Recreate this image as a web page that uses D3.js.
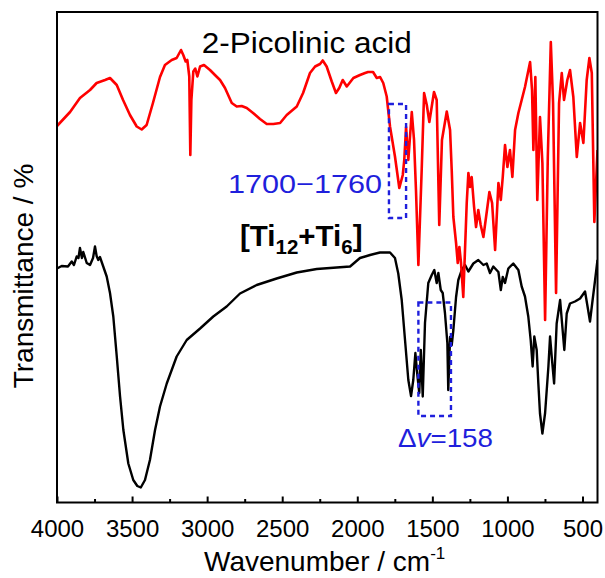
<!DOCTYPE html>
<html><head><meta charset="utf-8">
<script src="https://cdn.jsdelivr.net/npm/d3@7"></script>
<style>body{margin:0;background:#fff} svg{display:block} text{font-family:"Liberation Sans",Arial,Helvetica,sans-serif}</style>
</head><body><svg id="c" width="605" height="578"></svg>
<script>
// ---- data (wavenumber / cm-1, relative transmittance) ----
const wnRed=[4000,3913,3847,3780,3736,3680,3647,3602,3560,3514,3469,3436,3403,3361,3314,3281,3236,3203,3174,3159,3143,3132,3119,3112,3105,3092,3079,3065,3047,3021,2981,2948,2914,2881,2836,2803,2770,2736,2694,2648,2603,2559,2514,2470,2403,2361,2315,2281,2248,2230,2204,2170,2142,2120,2097,2070,2026,1982,1948,1928,1895,1870,1848,1827,1804,1782,1749,1720,1697,1687,1675,1660,1637,1622,1609,1593,1571,1555,1537,1520,1489,1471,1454,1436,1404,1382,1371,1360,1342,1331,1320,1309,1294,1271,1260,1249,1238,1222,1209,1194,1178,1160,1136,1120,1102,1082,1060,1044,1031,1016,1000,983,967,949,927,905,883,849,836,827,814,801,783,767,749,731,711,696,676,656,638,623,601,583,561,538,516,494,472,454,438,421,400];
const tRed=[75.3,78.1,80.9,82.5,83.9,84.5,84.9,83.5,80.5,77.5,75.2,74.6,75.5,79.9,85.1,87.5,88.5,88.9,90.5,89.5,88.2,88.5,85.2,69.5,80.5,86.2,86.8,85.2,87.2,87.5,86.5,85.5,84.5,82.9,79.9,79.2,79.3,78.9,77.9,76.7,75.7,75.7,75.9,77.5,79.2,81.9,85.9,87.2,87.7,88.4,87.2,84.2,81.9,82.9,84.5,83.2,84.9,85.5,85.9,86.1,86.1,84.9,85.1,83.9,81.2,75.2,69.2,62.9,65.5,68.5,75.1,68.5,78.1,72.5,62.5,47.5,66.5,81.9,79.5,76.1,82.1,80.5,55.5,72.5,78.2,74.5,66.5,57.1,51.9,47.9,51.1,47.9,41.1,59.9,65.9,63.1,65.1,59.1,55.1,58.5,55.5,53.1,58.5,62.1,59.9,50.5,63.9,60.5,65.1,71.5,67.1,70.5,65.1,74.5,77.9,80.5,83.1,88.1,82.5,70.5,85.1,60.5,77.1,67.9,36.5,69.1,92.1,79.9,41.9,79.9,85.9,80.5,84.5,86.5,81.1,69.1,75.9,71.9,84.5,88.9,85.9,56.1,70.5];
const wnBlack=[4000,3969,3927,3902,3887,3869,3857,3847,3834,3825,3802,3780,3760,3747,3736,3725,3714,3692,3669,3647,3625,3602,3580,3558,3525,3492,3465,3442,3414,3381,3347,3314,3269,3203,3136,3047,2959,2870,2781,2670,2537,2403,2270,2137,2048,1982,1915,1849,1782,1749,1727,1704,1682,1660,1642,1627,1613,1600,1587,1577,1564,1549,1527,1504,1487,1471,1460,1444,1431,1416,1400,1394,1382,1371,1360,1342,1327,1304,1282,1260,1227,1194,1160,1138,1116,1094,1060,1044,1031,1016,994,961,927,905,883,861,845,832,821,805,794,783,767,749,727,716,703,689,672,649,634,621,605,583,550,516,483,468,450,435,416,400];
const tBlack=[46.8,47.3,47.2,48.2,47.5,49.2,48.9,50.9,48.9,50.1,47.9,47.5,48.9,51.2,49.3,48.5,49.1,47.2,45.2,41.9,37.2,29.2,21.2,14.5,7.8,4.5,3.3,3.0,4.5,8.5,14.5,19.2,23.8,29.2,32.5,34.8,37.2,39.2,41.8,43.5,44.8,46.0,46.7,47.0,47.2,48.9,49.5,50.0,50.0,48.9,45.8,40.5,32.5,24.5,21.3,24.5,29.9,25.5,21.9,30.5,21.2,35.9,43.9,45.5,46.5,43.9,45.9,42.5,41.9,37.9,31.9,22.5,33.1,31.5,34.5,41.1,44.5,46.5,47.5,46.2,47.8,48.5,47.5,47.8,45.9,47.2,46.1,42.5,45.1,43.9,46.8,47.8,46.5,43.2,41.2,37.2,32.5,27.2,33.2,30.5,23.8,17.8,13.8,17.9,27.2,33.2,28.5,23.8,35.8,40.5,35.1,30.5,37.8,39.8,40.2,40.8,42.2,39.5,36.2,39.9,44.5,48.5];
const majorTicks=[4000,3500,3000,2500,2000,1500,1000,500];
const minorTicks=[3750,3250,2750,2250,1750,1250,750];
const boxWn=[[1789,1675],[1593,1376]];
const boxT=[[79.7,56.9],[40.0,17.3]];

// ---- layout ----
const L=57,R=597.5,T=12,B=502.5;
const BLUE="#1f1fdc";
const svg=d3.select("#c");
const x=d3.scaleLinear().domain([4000,400]).range([L,R]);
const y=d3.scaleLinear().domain([0,98.1]).range([B,T]);

svg.append("defs").append("clipPath").attr("id","clip")
  .append("rect").attr("x",L).attr("y",T).attr("width",R-L).attr("height",B-T);

const line=d3.line().x(d=>x(d[0])).y(d=>y(d[1]));
const black=wnBlack.map((w,i)=>[w,tBlack[i]]);
const red=wnRed.map((w,i)=>[w,tRed[i]]);

const plot=svg.append("g").attr("clip-path","url(#clip)");
plot.append("path").datum(black).attr("d",line).attr("fill","none").attr("stroke","#000").attr("stroke-width",2.4).attr("stroke-linejoin","round");
plot.append("path").datum(red).attr("d",line).attr("fill","none").attr("stroke","#f00").attr("stroke-width",2.6).attr("stroke-linejoin","round");

// dotted boxes
boxWn.forEach((b,i)=>{
  const x0=x(b[0]),x1=x(b[1]),y0=y(boxT[i][0]),y1=y(boxT[i][1]);
  svg.append("rect").attr("x",x0).attr("y",y0).attr("width",x1-x0).attr("height",y1-y0)
    .attr("fill","none").attr("stroke",BLUE).attr("stroke-width",2.4).attr("stroke-dasharray","5,4");
});

// axes
const gx=svg.append("g").attr("transform",`translate(0,${B})`)
  .call(d3.axisBottom(x).tickValues(majorTicks).tickSize(-6).tickFormat(d3.format("d")));
gx.select(".domain").remove();
gx.selectAll("line").attr("stroke","#000").attr("stroke-width",2);
gx.selectAll("text").attr("y",34.5).attr("dy",0).attr("font-size",24).attr("fill","#000")
  .attr("font-family","Liberation Sans, Arial, sans-serif");
const gm=svg.append("g").attr("transform",`translate(0,${B})`)
  .call(d3.axisBottom(x).tickValues(minorTicks).tickSize(-3.5).tickFormat(""));
gm.select(".domain").remove();
gm.selectAll("line").attr("stroke","#000").attr("stroke-width",2);

svg.append("rect").attr("x",L).attr("y",T).attr("width",R-L).attr("height",B-T)
  .attr("fill","none").attr("stroke","#000").attr("stroke-width",2);

// titles
const xt=svg.append("text").attr("x",204).attr("y",571).attr("font-size",28).attr("fill","#000");
xt.append("tspan").text("Wavenumber / cm");
xt.append("tspan").attr("font-size",17).attr("dy",-12).text("-1");
svg.append("text").attr("transform","translate(33,276) rotate(-90)").attr("text-anchor","middle")
  .attr("font-size",28).attr("fill","#000").text("Transmittance / %");

// annotations
svg.append("text").attr("x",201.7).attr("y",52.5).attr("font-size",30).attr("fill","#000")
  .attr("textLength",210).attr("lengthAdjust","spacingAndGlyphs").text("2-Picolinic acid");
svg.append("text").attr("x",228).attr("y",192.5).attr("font-size",26).attr("fill",BLUE)
  .attr("textLength",154).attr("lengthAdjust","spacingAndGlyphs").text("1700\u22121760");
const ti=svg.append("text").attr("x",240).attr("y",246).attr("font-size",29.5).attr("font-weight","bold").attr("fill","#000");
ti.append("tspan").text("[Ti");
ti.append("tspan").attr("font-size",20.5).attr("dy",8).text("12");
ti.append("tspan").attr("dy",-8).text("+Ti");
ti.append("tspan").attr("font-size",20.5).attr("dy",8).text("6");
ti.append("tspan").attr("dy",-8).text("]");
const dv=svg.append("text").attr("x",398).attr("y",446.5).attr("font-size",25).attr("fill",BLUE)
  .attr("textLength",95).attr("lengthAdjust","spacingAndGlyphs");
dv.append("tspan").text("\u0394");
dv.append("tspan").attr("font-style","italic").text("v");
dv.append("tspan").text("=158");
</script></body></html>
